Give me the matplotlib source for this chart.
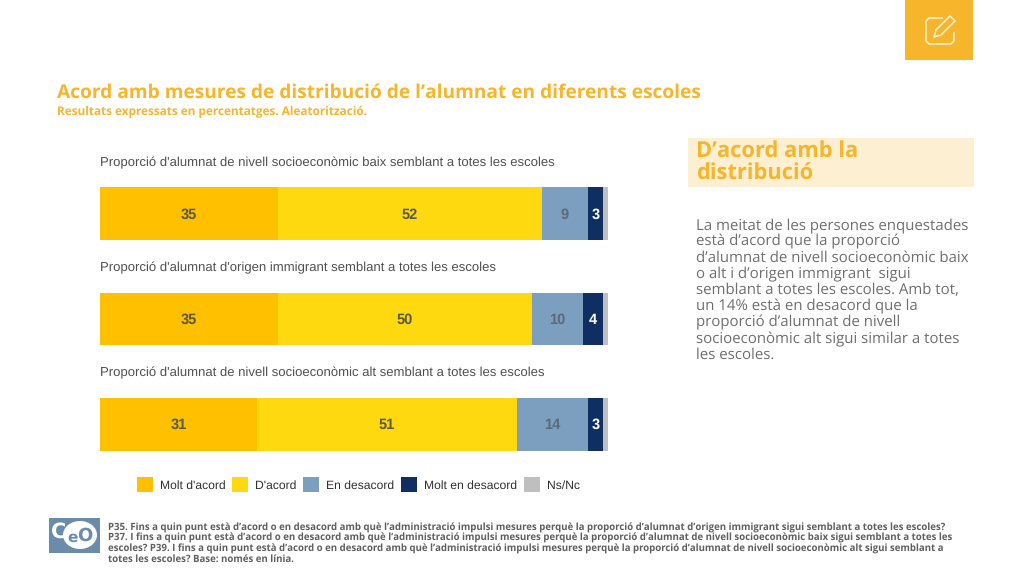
import numpy as np
import matplotlib
matplotlib.use('Agg')
import matplotlib.pyplot as plt
from matplotlib.patches import Rectangle, Ellipse

plt.rcParams['text.hinting'] = 'no_hinting'
plt.rcParams['text.hinting_factor'] = 8

preguntes = ["Proporció d'alumnat de nivell socioeconòmic baix semblant a totes les escoles",
             "Proporció d'alumnat d'origen immigrant semblant a totes les escoles",
             "Proporció d'alumnat de nivell socioeconòmic alt semblant a totes les escoles"]
categories = ["Molt d'acord", "D'acord", "En desacord", "Molt en desacord", "Ns/Nc"]
molt_acord = [35, 35, 31]
acord = [52, 50, 51]
desacord = [9, 10, 14]
molt_desacord = [3, 4, 3]
ns_nc = [1, 1, 1]
series = [molt_acord, acord, desacord, molt_desacord, ns_nc]
colors = ['#FFC000', '#FFD90F', '#7C9FC0', '#0F2F62', '#BFBFBF']
colors_text = ['#5A5A4A', '#5A5A4A', '#5A6A7A', 'white', None]

titol = "Acord amb mesures de distribució de l’alumnat en diferents escoles"
subtitol = "Resultats expressats en percentatges. Aleatorització."
capcalera = "D’acord amb la\ndistribució"
cos = ["La meitat de les persones enquestades",
       "està d’acord que la proporció",
       "d’alumnat de nivell socioeconòmic baix",
       "o alt i d’origen immigrant  sigui",
       "semblant a totes les escoles. Amb tot,",
       "un 14% està en desacord que la",
       "proporció d’alumnat de nivell",
       "socioeconòmic alt sigui similar a totes",
       "les escoles."]
peu = ["P35. Fins a quin punt està d’acord o en desacord amb què l’administració impulsi mesures perquè la proporció d’alumnat d’origen immigrant sigui semblant a totes les escoles?",
       "P37. I fins a quin punt està d’acord o en desacord amb què l’administració impulsi mesures perquè la proporció d’alumnat de nivell socioeconòmic baix sigui semblant a totes les",
       "escoles? P39. I fins a quin punt està d’acord o en desacord amb què l’administració impulsi mesures perquè la proporció d’alumnat de nivell socioeconòmic alt sigui semblant a",
       "totes les escoles? Base: només en línia."]

taronja = '#F7B52C'
gris = '#6E6E6E'
W, H = 1024, 576

fig = plt.figure(figsize=(W/100, H/100), dpi=100)

# capa de fons en pixels
fons = fig.add_axes([0, 0, 1, 1])
fons.set_xlim(0, W)
fons.set_ylim(H, 0)
fons.axis('off')

fons.add_patch(Rectangle((905, 0), 68, 60, color=taronja, lw=0))
fons.plot([942, 929, 926, 926, 929, 951, 954, 954], [18, 18, 21, 41, 44, 44, 41, 33], color='#FFF3D6', lw=1.1)
fons.plot([936, 950, 955, 941, 934, 936], [30, 16, 21, 35, 37, 30], color='#FFF3D6', lw=1.1)

fons.text(57, 92.5, titol, color=taronja, family='Open Sans', weight='bold', fontsize=13.81, va='center')
fons.text(57, 111.5, subtitol, color=taronja, family='Open Sans', weight='bold', fontsize=8.51, va='center')

fons.add_patch(Rectangle((688, 138), 286, 49, color='#FDF0D2', lw=0))
fons.text(696, 162.5, capcalera, color=taronja, family='Open Sans', weight='bold', fontsize=15.74,
          va='center', linespacing=1.07)

for i, linia in enumerate(cos):
    fons.text(696, 225.7 + i*16.2, linia, color=gris, family='Open Sans', fontsize=10.78, va='center')

fons.add_patch(Rectangle((49, 518), 51, 35, color='#6A8CAA', lw=0))
fons.add_patch(Ellipse((80, 535), 34, 28, color='white', lw=0))
fons.text(59, 532, 'C', color='white', family='DejaVu Sans', weight='bold', fontsize=15, ha='center', va='center')
fons.text(73, 538, 'e', color='#6A8CAA', family='DejaVu Sans', weight='bold', fontsize=11, ha='center', va='center')
fons.text(85, 536, 'O', color='#6A8CAA', family='DejaVu Sans', weight='bold', fontsize=13, ha='center', va='center')

for i, linia in enumerate(peu):
    fons.text(108, 527.5 + i*10.6, linia, color='#5F5F5F', family='Open Sans', weight='bold', fontsize=6.91, va='center')

# barres
ax = fig.add_axes([100/W, 1 - 477/H, 508/W, 316/H])
ax.patch.set_alpha(0)
y = np.arange(len(preguntes))
esq = np.zeros(len(preguntes))
for nom, valors, color, ctext in zip(categories, series, colors, colors_text):
    ax.barh(y, valors, left=esq, height=0.5, color=color, label=nom)
    if ctext:
        for yi, e, v in zip(y, esq, valors):
            ax.text(e + v/2, yi + 0.01, str(v), ha='center', va='center', color=ctext,
                    family='Liberation Sans', weight='bold', fontsize=10.5)
    esq = esq + np.array(valors)
for yi, p in zip(y, preguntes):
    ax.text(0, yi - 0.487, p, color='#505050', family='Liberation Sans', fontsize=9.43, va='center', ha='left')
ax.set_xlim(0, 100)
ax.set_ylim(2.5, -0.5)
ax.axis('off')

fig.legend(loc='center left', bbox_to_anchor=(126/W, 1 - 484.5/H), ncol=5, frameon=False,
           prop={'family': 'Liberation Sans', 'size': 8.75}, labelcolor='#303030',
           handlelength=1.3, handleheight=1.6, handletextpad=0.57, columnspacing=0.57)

fig.savefig('out.png', dpi=100)
